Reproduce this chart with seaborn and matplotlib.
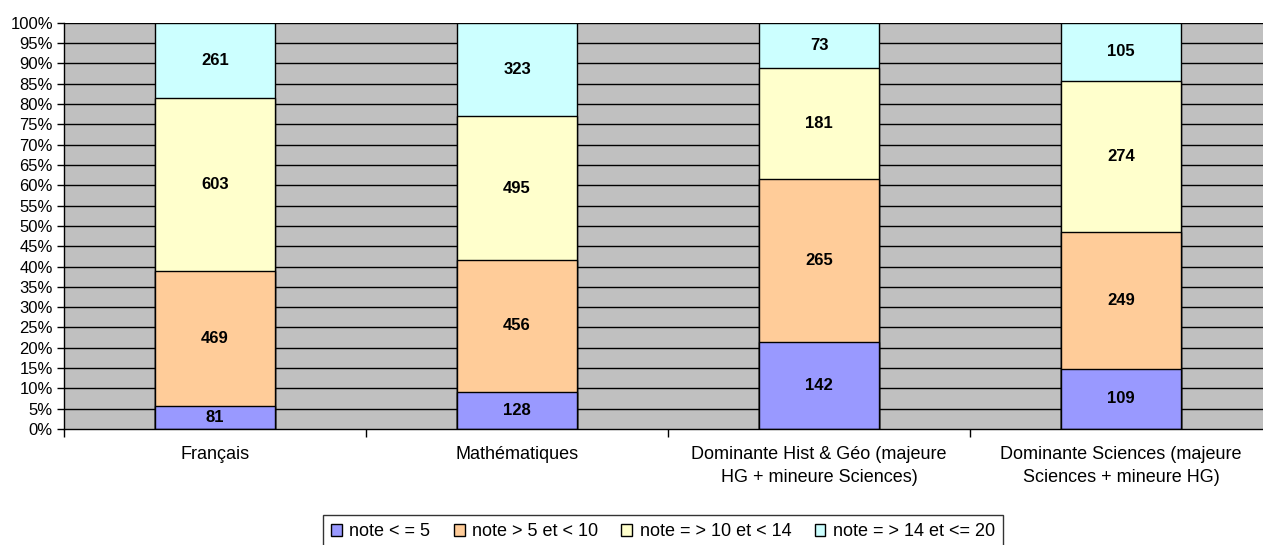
import matplotlib
matplotlib.use("Agg")
import matplotlib.pyplot as plt
from matplotlib.patches import Patch
import seaborn as sns
import pandas as pd
import numpy as np

# Data (counts per grade band)
categories = [
    "Français",
    "Mathématiques",
    "Dominante Hist & Géo (majeure\nHG + mineure Sciences)",
    "Dominante Sciences (majeure\nSciences + mineure HG)",
]
note_le5 = [81, 128, 142, 109]
note_5_10 = [469, 456, 265, 249]
note_10_14 = [603, 495, 181, 274]
note_14_20 = [261, 323, 73, 105]

series_names = [
    "note < = 5",
    "note > 5 et < 10",
    "note = > 10 et < 14",
    "note = > 14 et <= 20",
]
series_colors = ["#9999FF", "#FFCC99", "#FFFFCC", "#CCFFFF"]

counts = np.array([note_le5, note_5_10, note_10_14, note_14_20], dtype=float)
pct = counts / counts.sum(axis=0) * 100
cum = pct.cumsum(axis=0)

sns.set_theme(style="white")
plt.rcParams["font.family"] = ["Liberation Sans", "DejaVu Sans"]
plt.rcParams["text.color"] = "black"
plt.rcParams["xtick.color"] = "black"
plt.rcParams["ytick.color"] = "black"

fig = plt.figure(figsize=(12.63, 5.45), dpi=100)
ax = fig.add_axes([0.0507, 0.2128, 0.9565, 0.7455])
ax.set_facecolor("#C0C0C0")

# horizontal grid every 5 %
for v in range(5, 101, 5):
    ax.axhline(v, color="black", lw=1.0, zorder=0.5)

# stacked bars: draw cumulative heights from top down so each overlays the next
for i in range(3, -1, -1):
    df = pd.DataFrame({"cat": categories, "val": cum[i]})
    sns.barplot(
        data=df, x="cat", y="val", color=series_colors[i], saturation=1,
        width=0.4, edgecolor="black", linewidth=1.0, ax=ax, zorder=2,
    )

# value labels centered in each segment
for i in range(4):
    for j in range(len(categories)):
        ax.text(j, cum[i][j] - pct[i][j] / 2, f"{int(counts[i][j])}",
                ha="center", va="center", fontsize=12, fontweight="bold",
                color="black", zorder=3)

ax.set_xlim(-0.5, len(categories) - 0.5)
ax.set_ylim(0, 100)
ax.set_yticks(range(0, 101, 5))
ax.set_yticklabels([f"{v}%" for v in range(0, 101, 5)], fontsize=12)
ax.set_xlabel("")
ax.set_ylabel("")

ax.set_xticks(range(len(categories)))
ax.set_xticklabels(categories, fontsize=13, linespacing=1.45)
ax.set_xticks(np.arange(-0.5, len(categories), 1), minor=True)
ax.tick_params(axis="x", which="major", length=0, pad=12)
ax.tick_params(axis="x", which="minor", bottom=True, length=6, width=1,
               color="black", direction="out")
ax.tick_params(axis="y", left=True, length=5, width=1, color="black",
               direction="out", pad=3)

for side in ["top", "right"]:
    ax.spines[side].set_visible(False)
for side in ["left", "bottom"]:
    ax.spines[side].set_color("black")
    ax.spines[side].set_linewidth(1.0)

handles = [Patch(facecolor=c, edgecolor="black", linewidth=1.0) for c in series_colors]
leg = fig.legend(
    handles, series_names, loc="upper center", bbox_to_anchor=(0.525, 0.055),
    ncol=4, fontsize=13, frameon=True, fancybox=False, edgecolor="black",
    handlelength=0.6, handleheight=0.6, handletextpad=0.4, columnspacing=1.3,
    borderpad=0.45, borderaxespad=0,
)
leg.get_frame().set_linewidth(1.0)

fig.savefig("out.png", dpi=100)
